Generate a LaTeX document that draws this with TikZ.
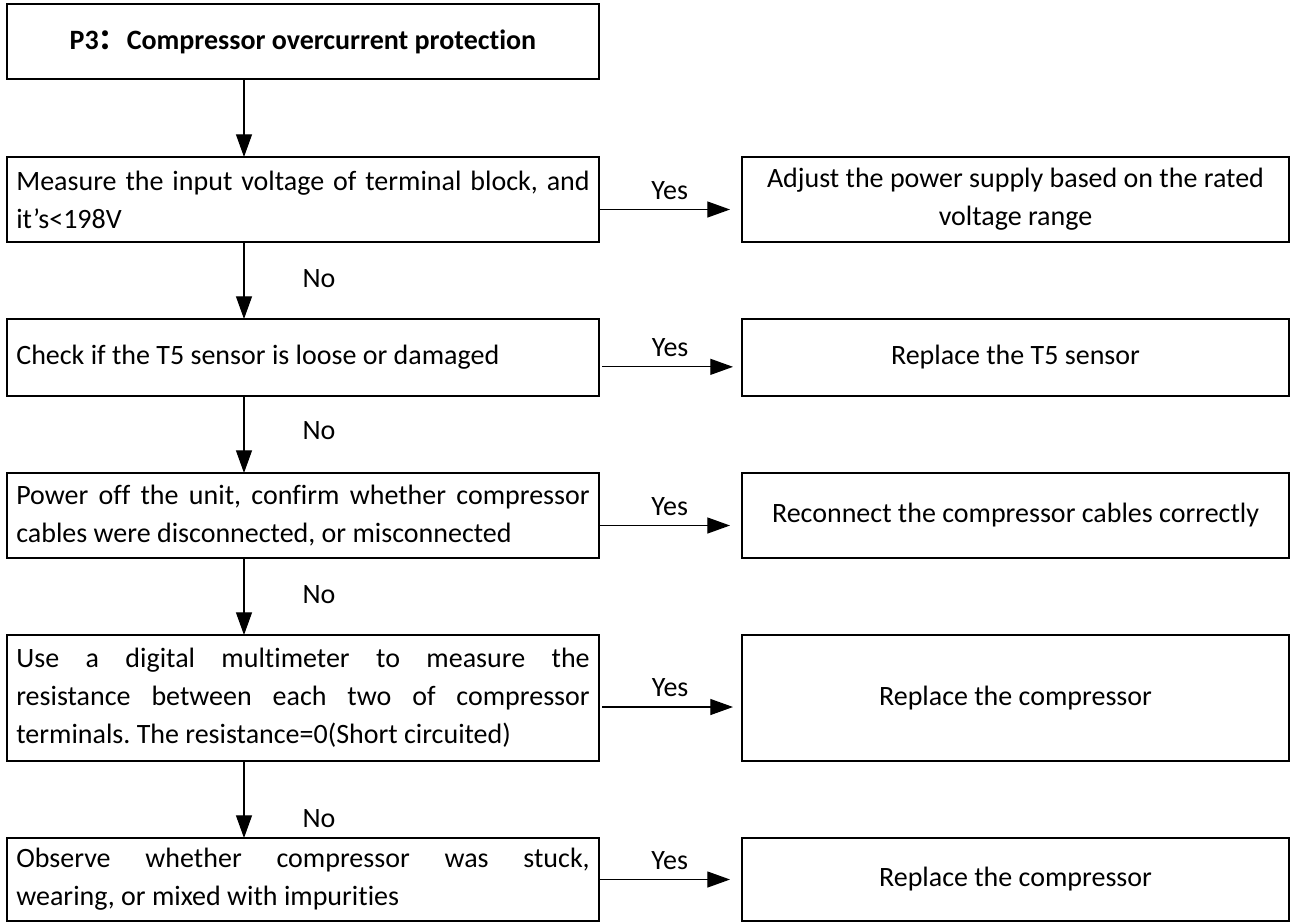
\documentclass[tikz,border=0pt]{standalone}
\usepackage{fontspec}
\setmainfont{Carlito}[Ligatures=CommonOff]
\newfontfamily\cjk{Noto Sans CJK SC}
\usepackage{tikz}
\usetikzlibrary{arrows.meta, positioning}
\frenchspacing

\begin{document}
\begin{tikzpicture}[
  node distance=57.75pt and 107.25pt,
  box/.style={draw, line width=1.2pt, outer sep=0pt, inner xsep=7pt, inner ysep=0pt,
              font=\fontsize{21}{28.5}\selectfont},
  leftbox/.style={box, text width=430pt, align=justify},
  rightbox/.style={box, text width=396.25pt, align=flush center},
  titlebox/.style={box, text width=430pt, align=flush center, font=\fontsize{21}{28.5}\selectfont\bfseries},
  lbl/.style={inner sep=0pt, font=\fontsize{21}{25}\selectfont},
  arr/.style={-{Triangle[length=17pt, width=12pt]}, line width=0.9pt},
]
\useasboundingbox (0,0) rectangle (969pt,-691.5pt);

% Checks (left column)
\node[titlebox, minimum height=56.25pt, anchor=north west] (title) at (5.25pt,-3pt)
  {P3{\cjk ：}Compressor overcurrent protection};
\node[leftbox, minimum height=63.75pt, below=58.5pt of title] (volt)
  {Measure the input voltage of terminal block, and\linebreak it’s<198V};
\node[leftbox, minimum height=57.75pt, below=of volt] (sensor)
  {Check if the T5 sensor is loose or damaged};
\node[leftbox, minimum height=63.75pt, below=of sensor] (cable)
  {Power off the unit, confirm whether compressor\linebreak cables were disconnected, or misconnected};
\node[leftbox, minimum height=94.5pt, below=of cable] (resist)
  {Use a digital multimeter to measure the\linebreak resistance between each two of compressor\linebreak terminals. The resistance=0(Short circuited)};
\node[leftbox, minimum height=62.25pt, below=of resist] (stuck)
  {Observe whether compressor was stuck,\linebreak wearing, or mixed with impurities};

% Actions (right column)
\node[rightbox, minimum height=63.75pt, right=of volt] (power)
  {Adjust the power supply based on the rated\\voltage range};
\node[rightbox, minimum height=57.75pt, right=of sensor] (newsensor)
  {Replace the T5 sensor};
\node[rightbox, minimum height=63.75pt, right=of cable] (recable)
  {Reconnect the compressor cables correctly};
\node[rightbox, minimum height=94.5pt, right=of resist] (comp1)
  {Replace the compressor};
\node[rightbox, minimum height=62.25pt, right=of stuck] (comp2)
  {Replace the compressor};

% Arrows — No
\draw[arr] ([xshift=-44.25pt]title.south) -- ([xshift=-44.25pt]volt.north);
\draw[arr] ([xshift=-44.25pt]volt.south) -- node[lbl, right=43.5pt, pos=0.48] {No} ([xshift=-44.25pt]sensor.north);
\draw[arr] ([xshift=-44.25pt]sensor.south) -- node[lbl, right=43.5pt, pos=0.45] {No} ([xshift=-44.25pt]cable.north);
\draw[arr] ([xshift=-44.25pt]cable.south) -- node[lbl, right=43.5pt, pos=0.48] {No} ([xshift=-44.25pt]resist.north);
\draw[arr] ([xshift=-44.25pt]resist.south) -- node[lbl, right=43.5pt, pos=0.75] {No} ([xshift=-44.25pt]stuck.north);

% Arrows — Yes
\draw[arr] ([yshift=-7.5pt]volt.east) -- node[lbl, above=7pt, pos=0.54] {Yes} ([yshift=-7.5pt, xshift=-9pt]power.west);
\draw[arr] ([yshift=-7pt, xshift=2.25pt]sensor.east) -- node[lbl, above=7pt, pos=0.52] {Yes} ([yshift=-7pt, xshift=-6.75pt]newsensor.west);
\draw[arr] ([yshift=-7.5pt]cable.east) -- node[lbl, above=7pt, pos=0.54] {Yes} ([yshift=-7.5pt, xshift=-9pt]recable.west);
\draw[arr] ([yshift=-6.75pt, xshift=2.25pt]resist.east) -- node[lbl, above=7pt, pos=0.52] {Yes} ([yshift=-6.75pt, xshift=-6.75pt]comp1.west);
\draw[arr] (stuck.east) -- node[lbl, above=7pt, pos=0.54] {Yes} ([xshift=-9pt]comp2.west);

\end{tikzpicture}
\end{document}
